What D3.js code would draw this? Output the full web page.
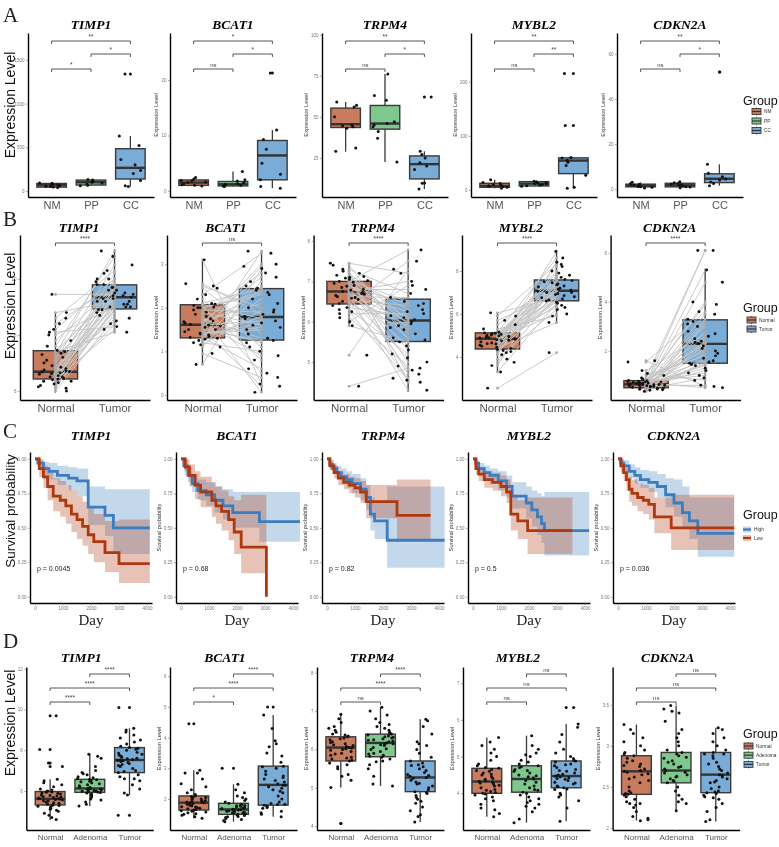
<!DOCTYPE html>
<html><head><meta charset="utf-8">
<script src="https://cdn.jsdelivr.net/npm/d3@7"></script>
<style>body{margin:0;background:#fff} svg{will-change:transform}</style>
</head><body><svg id="c" width="779" height="847"></svg>
<script>
// ---------------- DATA ----------------
const genes = ["TIMP1","BCAT1","TRPM4","MYBL2","CDKN2A"];
const groupsA = ["NM","PP","CC"];
const groupsB = ["Normal","Tumor"];
const groupsD = ["Normal","Adenoma","Tumor"];
const kmGroups = ["High","Low"];

// Panel A
const ticksA = {TIMP1:[0,500,1000,1500], BCAT1:[0,10,20], TRPM4:[25,50,75,100], MYBL2:[0,100,200], CDKN2A:[0,20,40,60]};
const sigA = {TIMP1:["**","*","*"], BCAT1:["*","*","ns"], TRPM4:["**","*","ns"], MYBL2:["**","**","ns"], CDKN2A:["**","*","ns"]};
// box stats per group: [lower whisker, Q1, median, Q3, upper whisker]
const boxA = {
  TIMP1:[[40,44,70,86,92],[60,68,100,125,132],[50,137,265,484,630]],
  BCAT1:[[0.9,1.0,1.5,1.98,2.4],[0.8,0.9,1.2,1.7,3.5],[0.5,2.0,6.4,9.1,11.0]],
  TRPM4:[[28.8,43.5,45.5,55.3,59],[22.5,42.5,45.9,56.9,76],[6,12.2,21.2,26.2,29]],
  MYBL2:[[3,5,7.4,12.4,19],[7,7.4,11.7,15.4,16],[3,30.2,54.3,59.3,60]],
  CDKN2A:[[0.5,1.0,1.6,2.2,3.0],[0.6,1.0,1.7,2.6,3.3],[1.5,2.9,4.6,6.8,11]]
};
const pointsA = {
  TIMP1:[[40,45,50,55,60,70,75,80,88,92],[60,65,80,90,100,105,110,118,125,132],[50,60,120,200,235,300,360,520,630,1340]],
  BCAT1:[[0.9,1.0,1.1,1.3,1.5,1.6,1.8,1.9,2.1,2.4],[0.8,0.9,1.0,1.1,1.2,1.3,1.5,1.8,2.0,3.5],[0.5,0.8,2.0,3.0,5.0,7.5,9.3,11.0,21.3]],
  TRPM4:[[29,31,43,44,44.5,45,50,56,57,59],[22.5,37,41,44,45,46,47,60,63,76],[6,9.5,9.7,18,20,22,25,27,29,62]],
  MYBL2:[[3,5,6,7,8,9,10,12,14,19],[7,8,9,10,11,12,13,14,15,16],[3,5,27,45,51,55,59,60,119,215]],
  CDKN2A:[[0.5,0.8,1.0,1.2,1.5,1.8,2.0,2.2,2.5,3.0],[0.6,0.9,1.1,1.4,1.6,1.9,2.2,2.5,2.8,3.3],[1.5,2.5,3.2,4.0,4.5,5.5,7.0,11,52]]
};

// Panel B (paired)
const ticksB = {TIMP1:[6,8,10], BCAT1:[0,1,2,3], TRPM4:[5,6,7,8], MYBL2:[4,6,8], CDKN2A:[2,4,6]};
const sigB = {TIMP1:"****", BCAT1:"ns", TRPM4:"****", MYBL2:"****", CDKN2A:"****"};
const boxB = {
  TIMP1:[[5.94,6.43,6.69,7.44,8.79],[8.06,8.93,9.35,9.79,11.06]],
  BCAT1:[[0.70,1.31,1.61,2.07,3.08],[0.06,1.26,1.79,2.44,3.32]],
  TRPM4:[[5.88,6.44,6.75,7.0,7.46],[4.26,5.51,6.03,6.56,7.78]],
  MYBL2:[[3.29,4.37,4.85,5.12,6.06],[5.55,6.61,7.08,7.58,8.98]],
  CDKN2A:[[0.34,0.50,0.64,0.79,1.09],[0.48,1.5,2.29,3.27,5.35]]
};
const normalB = {
  TIMP1:[6.0,6.1,6.2,6.25,6.3,6.35,6.4,6.42,6.45,6.5,6.55,6.6,6.62,6.65,6.68,6.7,6.72,6.75,6.8,6.85,6.9,7.0,7.1,7.2,7.3,7.35,7.4,7.45,7.6,7.8,8.0,8.2,8.4,8.6,8.8,6.15,6.35,6.5,9.45,8.1],
  BCAT1:[0.7,0.95,1.1,1.2,1.25,1.3,1.32,1.35,1.4,1.45,1.5,1.55,1.58,1.6,1.62,1.65,1.7,1.75,1.8,1.85,1.9,1.95,2.0,2.05,2.08,2.1,2.2,2.3,2.45,2.5,2.55,3.1,1.28,1.5,1.42,1.68,2.02,1.15,2.0,1.38],
  TRPM4:[5.9,6.0,6.1,6.2,6.3,6.4,6.45,6.5,6.55,6.6,6.62,6.65,6.7,6.72,6.75,6.78,6.8,6.85,6.9,6.95,7.0,7.02,7.05,7.1,7.15,7.2,7.25,7.3,7.4,7.45,6.35,6.58,6.88,6.98,7.12,6.68,5.17,4.4,6.25,7.08],
  MYBL2:[3.3,3.6,3.9,4.1,4.2,4.3,4.35,4.4,4.45,4.5,4.55,4.6,4.65,4.7,4.75,4.8,4.82,4.85,4.88,4.9,4.95,5.0,5.02,5.05,5.1,5.12,5.15,5.3,5.5,5.7,5.9,6.05,4.25,4.62,4.92,5.08,4.78,2.55,3.75,4.98],
  CDKN2A:[0.35,0.4,0.42,0.45,0.48,0.5,0.52,0.55,0.57,0.6,0.62,0.63,0.64,0.65,0.66,0.68,0.7,0.72,0.74,0.76,0.78,0.8,0.85,0.9,1.0,1.08,0.55,0.6,0.67,0.73,0.58,0.46,1.2,1.6,1.55,0.69,0.53,0.62,0.75,0.44]
};
const tumorB = {
  TIMP1:[8.6,9.0,8.4,9.2,8.9,9.5,8.2,9.3,9.7,8.7,9.1,9.4,10.0,8.8,9.6,9.35,9.8,9.0,10.2,9.2,8.5,9.9,10.5,9.3,11.0,9.6,8.1,9.4,10.8,9.7,9.0,10.0,9.8,10.3,9.2,8.9,9.5,9.1,9.45,8.3],
  BCAT1:[2.9,0.4,2.5,1.0,3.3,1.8,0.6,2.2,1.5,2.95,0.2,1.2,2.4,1.7,3.0,0.9,2.1,1.3,0.06,2.8,1.6,1.9,2.3,0.5,1.75,2.45,1.1,3.25,1.4,2.0,1.85,0.25,2.6,1.25,1.55,2.7,0.8,1.95,2.35,1.65],
  TRPM4:[5.5,6.9,4.9,6.2,5.2,7.5,5.8,4.6,6.4,5.9,6.6,4.3,6.0,5.4,7.0,5.6,6.8,4.8,6.1,5.3,7.78,6.5,5.0,6.3,5.7,6.05,4.5,6.7,5.55,7.2,6.15,5.1,6.45,5.85,4.7,6.25,7.3,4.85,4.55,5.95],
  MYBL2:[6.5,7.8,6.2,8.4,7.0,6.7,7.5,5.6,7.2,8.9,6.9,7.6,6.4,7.1,8.2,6.6,7.3,6.0,7.7,6.8,7.05,8.0,6.3,7.4,6.65,8.6,7.15,5.9,7.55,6.95,8.3,6.75,7.25,6.55,7.9,7.0,7.35,4.2,6.85,7.45],
  CDKN2A:[2.3,1.5,3.2,0.9,2.8,1.7,4.8,1.2,2.4,0.6,3.5,1.9,2.2,5.3,1.4,3.0,0.5,2.6,1.6,3.9,1.1,2.3,2.0,6.1,1.8,0.8,3.3,2.5,1.3,4.0,2.1,1.55,2.7,0.55,3.6,6.1,1.45,2.35,1.0,3.1]
};

// Panel C (Kaplan-Meier): t = day, s = survival, lo/hi = confidence band
const kmHigh = {
  TIMP1:{t:[0,100,300,500,800,1200,1500,1900,2500,2800,4100],s:[1,0.97,0.93,0.91,0.88,0.86,0.84,0.65,0.59,0.50,0.50],lo:[1,0.94,0.88,0.85,0.81,0.77,0.73,0.52,0.44,0.31,0.31],hi:[1,1,0.98,0.97,0.95,0.94,0.93,0.80,0.78,0.78,0.78]},
  BCAT1:{t:[0,100,250,400,600,900,1200,1500,1850,2800,4250],s:[1,0.95,0.88,0.82,0.77,0.74,0.70,0.66,0.61,0.545,0.545],lo:[1,0.91,0.83,0.76,0.70,0.66,0.61,0.56,0.50,0.40,0.40],hi:[1,0.99,0.94,0.89,0.85,0.83,0.80,0.78,0.76,0.76,0.76]},
  TRPM4:{t:[0,100,200,350,500,700,900,1200,1400,1550,1700,2150,4200],s:[1,0.96,0.93,0.90,0.87,0.85,0.82,0.78,0.72,0.60,0.55,0.41,0.41],lo:[1,0.93,0.89,0.85,0.82,0.79,0.75,0.70,0.63,0.48,0.42,0.21,0.21],hi:[1,0.99,0.97,0.95,0.93,0.91,0.89,0.86,0.81,0.72,0.68,0.80,0.80]},
  MYBL2:{t:[0,100,200,400,600,900,1200,1400,1900,2100,2300,2450,2550,4150],s:[1,0.97,0.93,0.90,0.88,0.84,0.80,0.73,0.68,0.63,0.58,0.53,0.48,0.48],lo:[1,0.94,0.89,0.85,0.82,0.77,0.72,0.64,0.57,0.51,0.45,0.39,0.30,0.30],hi:[1,1,0.97,0.95,0.93,0.91,0.88,0.83,0.80,0.77,0.75,0.73,0.76,0.76]},
  CDKN2A:{t:[0,100,200,400,600,800,1100,1400,1700,2000,2300,2550,2850,4150],s:[1,0.97,0.95,0.91,0.88,0.85,0.83,0.80,0.74,0.68,0.61,0.55,0.46,0.46],lo:[1,0.94,0.91,0.86,0.82,0.79,0.76,0.72,0.65,0.58,0.49,0.42,0.29,0.29],hi:[1,1,0.99,0.96,0.94,0.92,0.91,0.89,0.86,0.85,0.80,0.72,0.72,0.72]}
};
const kmLow = {
  TIMP1:{t:[0,150,300,450,650,900,1100,1300,1500,1700,1900,2100,2500,3000,4100],s:[1,0.93,0.87,0.80,0.73,0.70,0.66,0.60,0.56,0.51,0.45,0.40,0.32,0.24,0.24],lo:[1,0.87,0.79,0.70,0.62,0.58,0.53,0.47,0.42,0.37,0.31,0.25,0.18,0.10,0.10],hi:[1,0.99,0.95,0.91,0.86,0.84,0.81,0.77,0.73,0.69,0.64,0.60,0.55,0.56,0.56]},
  BCAT1:{t:[0,150,300,500,700,1100,1250,1450,1700,1900,2150,3050],s:[1,0.94,0.88,0.81,0.76,0.70,0.66,0.62,0.56,0.47,0.36,0],lo:[1,0.88,0.80,0.71,0.65,0.58,0.53,0.48,0.41,0.31,0.17,0.17],hi:[1,1,0.96,0.91,0.87,0.83,0.80,0.77,0.73,0.70,0.74,0.74]},
  TRPM4:{t:[0,100,250,400,600,800,1000,1200,1400,2500,3700],s:[1,0.95,0.90,0.86,0.83,0.81,0.79,0.76,0.69,0.59,0.59],lo:[1,0.92,0.86,0.81,0.78,0.75,0.72,0.68,0.57,0.42,0.42],hi:[1,0.99,0.95,0.91,0.89,0.87,0.86,0.84,0.81,0.85,0.85]},
  MYBL2:{t:[0,100,200,400,700,1000,1200,1350,1600,1950,3550],s:[1,0.93,0.89,0.85,0.83,0.80,0.76,0.60,0.55,0.48,0.48],lo:[1,0.89,0.84,0.79,0.77,0.73,0.68,0.48,0.42,0.31,0.31],hi:[1,0.98,0.94,0.91,0.90,0.88,0.85,0.74,0.70,0.72,0.72]},
  CDKN2A:{t:[0,100,200,300,400,500,700,900,1100,1300,1900,4150],s:[1,0.95,0.90,0.85,0.78,0.75,0.72,0.70,0.67,0.58,0.50,0.50],lo:[1,0.90,0.84,0.77,0.69,0.66,0.62,0.60,0.56,0.46,0.34,0.34],hi:[1,1,0.96,0.93,0.87,0.85,0.82,0.81,0.79,0.72,0.74,0.74]}
};
const pvalC = {TIMP1:"p = 0.0045", BCAT1:"p = 0.68", TRPM4:"p = 0.82", MYBL2:"p = 0.5", CDKN2A:"p = 0.036"};
const ticksCx = [0,1000,2000,3000,4000];
const ticksCy = [0,0.25,0.5,0.75,1];

// Panel D
const ticksD = {TIMP1:[6,8,10,12], BCAT1:[2,3,4,5,6], TRPM4:[4,5,6,7,8], MYBL2:[4,5,6,7], CDKN2A:[2.0,2.5,3.0,3.5]};
const sigD = {TIMP1:["****","****","****"], BCAT1:["****","****","*"], TRPM4:["****","****","ns"], MYBL2:["ns","ns","ns"], CDKN2A:["ns","ns","ns"]};
const boxD = {
  TIMP1:[[4.57,5.31,5.61,5.97,6.58],[5.26,5.93,6.12,6.57,7.8],[5.8,6.9,7.52,8.13,9.08]],
  BCAT1:[[1.37,1.64,1.88,2.1,2.94],[1.26,1.5,1.66,1.86,2.48],[1.42,1.8,2.46,3.07,4.74]],
  TRPM4:[[5.01,5.7,6.05,6.33,6.92],[5.05,5.81,6.17,6.4,7.1],[4.11,4.9,5.27,5.7,6.79]],
  MYBL2:[[3.36,4.0,4.32,4.68,5.52],[3.2,4.03,4.39,4.75,5.57],[3.24,4.15,4.47,4.88,5.89]],
  CDKN2A:[[2.09,2.41,2.69,2.88,3.26],[2.21,2.55,2.7,2.92,3.49],[2.08,2.43,2.65,2.92,3.22]]
};
const pointsD = {
  TIMP1:[[4.6,4.7,4.8,4.9,5.0,5.05,5.1,5.15,5.2,5.25,5.3,5.32,5.35,5.4,5.45,5.5,5.52,5.55,5.58,5.6,5.62,5.65,5.68,5.7,5.72,5.75,5.8,5.85,5.9,5.93,5.95,5.97,6.0,6.05,6.1,6.2,6.3,6.4,6.5,6.58,5.28,5.42,5.63,5.78,5.88,9.69,8.03,7.37,7.2],
         [5.26,5.35,5.45,5.55,5.6,5.7,5.75,5.8,5.85,5.9,5.92,5.95,5.98,6.0,6.02,6.05,6.08,6.1,6.12,6.14,6.17,6.2,6.25,6.3,6.35,6.4,6.45,6.5,6.55,6.6,6.65,6.7,6.8,6.9,7.0,7.2,7.7,7.8,5.96,6.04,6.11,6.22,6.48,6.58,7.6,6.85],
         [5.8,5.9,6.1,6.3,6.5,6.6,6.7,6.8,6.9,6.95,7.0,7.1,7.2,7.25,7.3,7.35,7.4,7.45,7.5,7.52,7.55,7.6,7.65,7.7,7.75,7.8,7.85,7.9,8.0,8.05,8.1,8.13,8.2,8.3,8.4,8.5,8.6,8.75,8.9,9.0,9.08,10.1,4.8,7.48,7.58,6.6]],
  BCAT1:[[1.37,1.42,1.47,1.5,1.55,1.58,1.6,1.62,1.64,1.66,1.7,1.72,1.75,1.78,1.8,1.83,1.85,1.87,1.88,1.9,1.92,1.95,1.98,2.0,2.02,2.05,2.08,2.1,2.15,2.2,2.3,2.4,2.5,2.65,2.85,2.94,1.68,1.74,1.9,1.96,2.06,1.52,4.45,2.85],
         [1.26,1.3,1.33,1.36,1.4,1.43,1.46,1.5,1.52,1.54,1.56,1.58,1.6,1.62,1.64,1.66,1.67,1.69,1.7,1.72,1.74,1.76,1.78,1.8,1.83,1.86,1.9,1.95,2.0,2.1,2.2,2.3,2.48,1.48,1.6,1.65,1.71,1.79,1.42,3.0,2.05,1.55],
         [1.42,1.5,1.55,1.6,1.7,1.75,1.8,1.82,1.85,1.9,2.0,2.1,2.2,2.3,2.35,2.4,2.45,2.5,2.55,2.6,2.7,2.8,2.9,3.0,3.05,3.07,3.2,3.4,3.5,3.7,3.8,3.9,4.3,4.74,1.78,1.83,2.45,2.65,2.75,5.0,1.72,2.25]],
  TRPM4:[[5.01,5.2,5.3,5.35,5.5,5.6,5.65,5.7,5.72,5.75,5.8,5.85,5.9,5.95,6.0,6.02,6.05,6.08,6.1,6.12,6.15,6.2,6.25,6.3,6.33,6.35,6.4,6.45,6.5,6.55,6.6,6.7,6.8,6.92,5.78,5.88,6.04,6.18,6.28,5.55,4.07,6.38,5.98],
         [5.05,5.1,5.3,5.5,5.6,5.7,5.75,5.8,5.82,5.85,5.9,5.95,6.0,6.05,6.1,6.12,6.15,6.17,6.2,6.22,6.25,6.28,6.3,6.33,6.35,6.38,6.4,6.45,6.5,6.55,6.6,6.7,6.8,6.9,7.0,7.1,5.88,6.02,6.14,6.24,6.32,5.68,6.42,6.65],
         [4.11,4.25,4.3,4.4,4.5,4.6,4.65,4.7,4.8,4.85,4.9,4.95,5.0,5.05,5.1,5.15,5.2,5.25,5.27,5.3,5.35,5.4,5.45,5.5,5.55,5.6,5.65,5.7,5.8,5.9,6.0,6.1,6.2,6.4,6.6,6.79,4.75,5.12,5.32,5.58,4.88,6.75,6.15]],
  MYBL2:[[3.36,3.45,3.55,3.6,3.7,3.8,3.85,3.9,3.95,4.0,4.02,4.05,4.1,4.15,4.2,4.25,4.3,4.32,4.35,4.4,4.45,4.5,4.55,4.6,4.65,4.68,4.7,4.75,4.8,4.9,5.0,5.1,5.2,5.3,5.4,5.52,4.08,4.22,4.38,4.52,4.62,3.98,4.28],
         [3.2,3.3,3.5,3.6,3.7,3.75,3.8,3.85,3.9,4.0,4.03,4.1,4.15,4.2,4.3,4.35,4.39,4.42,4.45,4.5,4.55,4.6,4.65,4.7,4.75,4.8,4.85,4.9,5.0,5.05,5.1,5.2,5.3,5.57,3.95,4.25,4.48,4.62,4.72,3.65,4.08],
         [3.24,3.6,3.8,3.9,3.95,4.0,4.1,4.15,4.18,4.2,4.25,4.3,4.35,4.4,4.42,4.45,4.47,4.5,4.55,4.6,4.65,4.7,4.75,4.8,4.85,4.88,4.9,4.95,5.0,5.1,5.2,5.4,5.6,5.8,5.89,4.12,4.38,4.52,4.62,4.78,6.34,4.28]],
  CDKN2A:[[2.09,2.12,2.2,2.25,2.28,2.3,2.32,2.35,2.38,2.41,2.42,2.45,2.5,2.55,2.58,2.6,2.62,2.65,2.68,2.69,2.7,2.72,2.75,2.78,2.8,2.82,2.85,2.88,2.9,2.95,3.0,3.05,3.1,3.15,3.2,3.26,2.4,2.43,2.66,2.76,2.3,2.1,2.14,2.92],
          [2.21,2.3,2.35,2.4,2.45,2.5,2.55,2.57,2.6,2.62,2.65,2.67,2.7,2.72,2.75,2.78,2.8,2.82,2.85,2.88,2.9,2.92,2.95,3.0,3.05,3.1,3.15,3.2,3.3,3.4,3.45,3.49,2.58,2.68,2.74,2.86,2.63,2.32,3.42],
          [2.08,2.1,2.2,2.25,2.3,2.35,2.38,2.4,2.42,2.43,2.45,2.5,2.55,2.58,2.6,2.62,2.65,2.67,2.7,2.72,2.75,2.8,2.85,2.88,2.9,2.92,2.95,3.0,3.05,3.1,3.15,3.2,3.22,2.44,2.56,2.64,2.78,2.9,2.37,2.48]]
};

// ---------------- LAYOUT / STYLE ----------------
const SANS = "'Liberation Sans', Arial, sans-serif";
const SERIF = "'Liberation Serif', 'Times New Roman', serif";
const fillCol = {NM:"#C97B5E", PP:"#7EC88D", CC:"#7AACD8", Normal:"#C97B5E", Adenoma:"#7EC88D", Tumor:"#7AACD8"};
const kmCol = {High:"#3B7DC0", Low:"#B0380F"};

const rowA = {top:33,bottom:197,titleY:29,titleDx:0,axes:[28,170,322,471,617],W:126,xLabY:208.5,xLabSize:11,bigY:105,
  dom:{TIMP1:[-69,1809],BCAT1:[-1.1,28.5],TRPM4:[1.2,101],MYBL2:[-13,290],CDKN2A:[-3.5,69.3]}};
const rowB = {top:235,bottom:400,titleY:232,titleDx:-6,axes:[20,167,313.6,462,610.6],W:130,xLabY:417,xLabSize:11.5,bigY:306,
  dom:{TIMP1:[5.68,11.57],BCAT1:[-0.115,3.67],TRPM4:[4.06,8.15],MYBL2:[2.0,9.67],CDKN2A:[0,6.73]}};
const rowC = {top:452,bottom:603,titleY:440,axes:[30,176,322,468,613],W:122,bigY:511};
const rowD = {top:667,bottom:830,titleY:662,titleDx:-8.5,axes:[26.3,170,317,463,612.6],W:127,xLabY:841,xLabSize:8,bigY:723,
  dom:{TIMP1:[4.08,12.09],BCAT1:[0.99,6.30],TRPM4:[3.9,8.15],MYBL2:[3.0,7.44],CDKN2A:[1.976,3.96]}};

const svg = d3.select("#c");

function jit(i,k){ const s=Math.sin((i+1)*12.9898+(k+1)*78.233)*43758.5453; return s-Math.floor(s)-0.5; }

function txt(g,x,y,t,o){
  const e=g.append("text").attr("x",x).attr("y",y).text(t)
    .attr("font-family",o.ff||SANS).attr("font-size",o.fs||10).attr("fill",o.fill||"#000")
    .attr("text-anchor",o.anchor||"start");
  if(o.fw) e.attr("font-weight",o.fw);
  if(o.fst) e.attr("font-style",o.fst);
  if(o.rot) e.attr("transform",`rotate(${o.rot},${x},${y})`);
  return e;
}

function yAxis(g,y,axisX,ticks,fmt){
  const a=g.append("g").attr("transform",`translate(${axisX},0)`)
    .call(d3.axisLeft(y).tickValues(ticks).tickSize(2).tickSizeOuter(0).tickPadding(1.5).tickFormat(fmt||(d=>d)));
  a.attr("font-family",SANS);
  a.select(".domain").attr("stroke","#000").attr("stroke-width",1.4);
  a.selectAll(".tick line").attr("stroke","#555").attr("stroke-width",0.5);
  a.selectAll(".tick text").attr("font-size",4.5).attr("fill","#777");
  return a;
}
function xAxis(g,x,bottom,fs,fill,fmt){
  const a=g.append("g").attr("transform",`translate(0,${bottom})`)
    .call(d3.axisBottom(x).tickSize(2).tickSizeOuter(0).tickPadding(2).tickFormat(fmt||(d=>d)));
  a.attr("font-family",SANS);
  a.select(".domain").attr("stroke","#000").attr("stroke-width",1.4);
  a.selectAll(".tick line").attr("stroke","#555").attr("stroke-width",0.5);
  a.selectAll(".tick text").attr("font-size",fs).attr("fill",fill||"#555");
  return a;
}

function smallYLabel(g,axisG,top,bottom,label){
  const bb=axisG.node().getBBox();
  const x=bb.x+axisG.node().transform.baseVal[0].matrix.e-3;
  txt(g,x,(top+bottom)/2,label,{fs:5.7,fill:"#333",anchor:"middle",rot:-90});
}

function drawBox(g,cx,y,st,bw,col){
  const [lo,q1,md,q3,hi]=st;
  g.append("line").attr("x1",cx).attr("x2",cx).attr("y1",y(lo)).attr("y2",y(q1)).attr("stroke","#3a3a3a").attr("stroke-width",1.3);
  g.append("line").attr("x1",cx).attr("x2",cx).attr("y1",y(q3)).attr("y2",y(hi)).attr("stroke","#3a3a3a").attr("stroke-width",1.3);
  g.append("rect").attr("x",cx-bw/2).attr("y",y(q3)).attr("width",bw).attr("height",Math.max(0.1,y(q1)-y(q3)))
    .attr("fill",col).attr("stroke","#3a3a3a").attr("stroke-width",1.4);
  g.append("line").attr("x1",cx-bw/2).attr("x2",cx+bw/2).attr("y1",y(md)).attr("y2",y(md)).attr("stroke","#333").attr("stroke-width",2.4);
}

function bracket(g,x1,x2,yb,label){
  g.append("path").attr("d",`M${x1},${yb+3}V${yb}H${x2}V${yb+3}`).attr("fill","none").attr("stroke","#444").attr("stroke-width",0.9);
  txt(g,(x1+x2)/2,yb-2,label,{fs:label==="ns"?6:6.5,fill:"#444",anchor:"middle"});
}

function boxPanel(row,gi,gene,groups,stats,pts,sigs,pairs,ticks,bigLabel){
  const g=svg.append("g");
  const ax=row.axes[gi];
  const x=d3.scalePoint().domain(groups).range([ax,ax+row.W]).padding(0.6);
  const y=d3.scaleLinear().domain(row.dom[gene]).range([row.bottom,row.top]);
  const bw=x.step()*0.75;
  groups.forEach((grp,k)=>drawBox(g,x(grp),y,stats[k],bw,fillCol[grp]));
  groups.forEach((grp,k)=>{
    const [lo,,,,hi]=stats[k];
    pts[k].forEach((v,i)=>{
      if(v>hi+1e-9||v<lo-1e-9) g.append("circle").attr("cx",x(grp)).attr("cy",y(v)).attr("r",1.5).attr("fill","#111");
      g.append("circle").attr("cx",x(grp)+jit(i,k+gi*3)*bw*0.85).attr("cy",y(v)).attr("r",1.5).attr("fill","#111");
    });
  });
  pairs.forEach((p,j)=>bracket(g,x(groups[p[0]]),x(groups[p[1]]),p[2],sigs[j]));
  const ya=yAxis(g,y,ax,ticks);
  xAxis(g,x,row.bottom,row.xLabSize,"#555");
  txt(g,ax+row.W/2+row.titleDx,row.titleY,gene,{ff:SERIF,fs:13.5,fw:"bold",fst:"italic",anchor:"middle"});
  if(bigLabel) txt(g,15,row.bigY,"Expression Level",{fs:14,anchor:"middle",rot:-90,fill:"#111"});
  else smallYLabel(g,ya,row.top,row.bottom,"Expression Level");
}

function pairedPanel(row,gi,gene){
  const g=svg.append("g");
  const ax=row.axes[gi];
  const x=d3.scalePoint().domain(groupsB).range([ax,ax+row.W]).padding(0.6);
  const y=d3.scaleLinear().domain(row.dom[gene]).range([row.bottom,row.top]);
  const bw=x.step()*0.75;
  groupsB.forEach((grp,k)=>drawBox(g,x(grp),y,boxB[gene][k],bw,fillCol[grp]));
  const nv=normalB[gene], tv=tumorB[gene];
  const n=Math.min(nv.length,tv.length);
  for(let i=0;i<n;i++){
    g.append("line").attr("x1",x("Normal")).attr("x2",x("Tumor")).attr("y1",y(nv[i])).attr("y2",y(tv[i]))
      .attr("stroke","#c4c4c4").attr("stroke-width",0.9);
  }
  for(let i=0;i<n;i++){
    g.append("circle").attr("cx",x("Normal")).attr("cy",y(nv[i])).attr("r",1.4).attr("fill","#aaa");
    g.append("circle").attr("cx",x("Tumor")).attr("cy",y(tv[i])).attr("r",1.4).attr("fill","#aaa");
  }
  [nv,tv].forEach((arr,k)=>{
    arr.forEach((v,i)=>{
      g.append("circle").attr("cx",x(groupsB[k])+jit(i,k+gi*2+20)*bw*0.85).attr("cy",y(v)).attr("r",1.45).attr("fill","#111");
    });
  });
  bracket(g,x("Normal"),x("Tumor"),243,sigB[gene]);
  const ya=yAxis(g,y,ax,ticksB[gene]);
  xAxis(g,x,row.bottom,row.xLabSize,"#555");
  txt(g,ax+row.W/2+row.titleDx,row.titleY,gene,{ff:SERIF,fs:13.5,fw:"bold",fst:"italic",anchor:"middle"});
  if(gi===0) txt(g,15,row.bigY,"Expression Level",{fs:14,anchor:"middle",rot:-90,fill:"#111"});
  else smallYLabel(g,ya,row.top,row.bottom,"Expression Level");
}

function kmPanel(row,gi,gene){
  const g=svg.append("g");
  const ax=row.axes[gi];
  const x=d3.scaleLinear().domain([-180,4180]).range([ax,ax+row.W]);
  const y=d3.scaleLinear().domain([-0.045,1.05]).range([row.bottom,row.top]);
  const series=[["High",kmHigh[gene]],["Low",kmLow[gene]]];
  series.forEach(([k,d])=>{
    const rows=d.t.map((t,i)=>({t,s:d.s[i],lo:d.lo[i],hi:d.hi[i]}));
    g.append("path").datum(rows).attr("d",d3.area().x(r=>x(r.t)).y0(r=>y(r.lo)).y1(r=>y(r.hi)).curve(d3.curveStepAfter))
      .attr("fill",kmCol[k]).attr("fill-opacity",0.3);
  });
  series.forEach(([k,d])=>{
    const rows=d.t.map((t,i)=>({t,s:d.s[i]}));
    g.append("path").datum(rows).attr("d",d3.line().x(r=>x(r.t)).y(r=>y(r.s)).curve(d3.curveStepAfter))
      .attr("fill","none").attr("stroke",kmCol[k]).attr("stroke-width",2.8);
  });
  const ya=yAxis(g,y,ax,ticksCy,d3.format(".2f"));
  const xa=g.append("g").attr("transform",`translate(0,${row.bottom})`)
    .call(d3.axisBottom(x).tickValues(ticksCx).tickSize(2).tickSizeOuter(0).tickPadding(1.5).tickFormat(d3.format("d")));
  xa.attr("font-family",SANS);
  xa.select(".domain").attr("stroke","#000").attr("stroke-width",1.4);
  xa.selectAll(".tick line").attr("stroke","#555").attr("stroke-width",0.5);
  xa.selectAll(".tick text").attr("font-size",4.5).attr("fill","#777");
  txt(g,ax+7,571,pvalC[gene],{fs:7,fill:"#222"});
  txt(g,ax+row.W/2,row.titleY,gene,{ff:SERIF,fs:13.5,fw:"bold",fst:"italic",anchor:"middle"});
  txt(g,ax+row.W/2,625,"Day",{ff:SERIF,fs:15,anchor:"middle",fill:"#222"});
  if(gi===0) txt(g,15,row.bigY,"Survival probability",{fs:13.5,anchor:"middle",rot:-90,fill:"#111"});
  else smallYLabel(g,ya,row.top,row.bottom,"Survival probability");
}

function boxLegend(ty,keys,ky0,kdy,kx){
  const g=svg.append("g");
  txt(g,743,ty,"Group",{fs:12.5,fill:"#111"});
  keys.forEach((k,i)=>{
    const yy=ky0+i*kdy;
    g.append("line").attr("x1",kx+4.5).attr("x2",kx+4.5).attr("y1",yy-1).attr("y2",yy+7).attr("stroke","#3a3a3a").attr("stroke-width",0.8);
    g.append("rect").attr("x",kx).attr("y",yy).attr("width",9).attr("height",6).attr("fill",fillCol[k]).attr("stroke","#3a3a3a").attr("stroke-width",0.9);
    g.append("line").attr("x1",kx).attr("x2",kx+9).attr("y1",yy+3).attr("y2",yy+3).attr("stroke","#333").attr("stroke-width",1.2);
    txt(g,kx+12,yy+4.8,k,{fs:4.8,fill:"#333"});
  });
}
function kmLegend(){
  const g=svg.append("g");
  txt(g,743,519,"Group",{fs:12.5,fill:"#111"});
  kmGroups.forEach((k,i)=>{
    const yy=526.5+i*8.5;
    g.append("rect").attr("x",743).attr("y",yy).attr("width",8).attr("height",6).attr("fill",kmCol[k]).attr("fill-opacity",0.3);
    g.append("line").attr("x1",743).attr("x2",751).attr("y1",yy+3).attr("y2",yy+3).attr("stroke",kmCol[k]).attr("stroke-width",2.2);
    txt(g,754,yy+4.8,k,{fs:4.8,fill:"#333"});
  });
}

// ---------------- DRAW ----------------
const pairsA=[[0,2,41],[1,2,54],[0,1,69]];
const pairsD=[[1,2,674],[0,2,688],[0,1,702]];
genes.forEach((gene,gi)=>{
  boxPanel(rowA,gi,gene,groupsA,boxA[gene],pointsA[gene],sigA[gene],pairsA,ticksA[gene],gi===0);
  pairedPanel(rowB,gi,gene);
  kmPanel(rowC,gi,gene);
  boxPanel(rowD,gi,gene,groupsD,boxD[gene],pointsD[gene],sigD[gene],pairsD,ticksD[gene],gi===0);
});
boxLegend(104.5,groupsA,108.5,9.5,752);
boxLegend(312,groupsB,317,9,747);
kmLegend();
boxLegend(738,groupsD,743,9.2,744);

[["A",21.5],["B",226],["C",438],["D",648]].forEach(([L,yy])=>txt(svg,3,yy,L,{ff:SERIF,fs:21,fill:"#222"}));
</script></body></html>
